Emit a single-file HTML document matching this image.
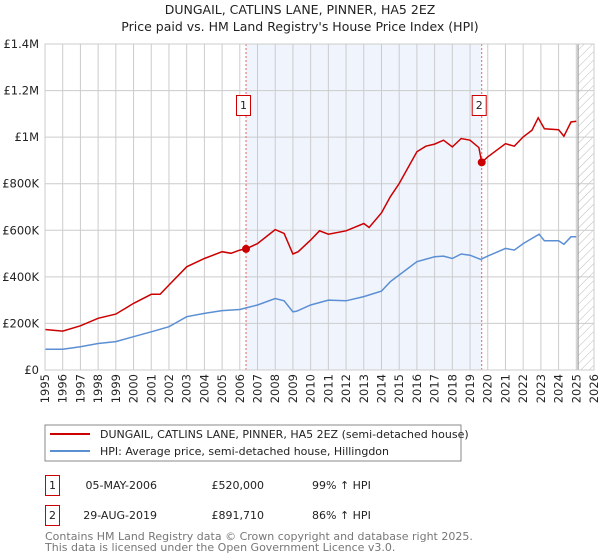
<!DOCTYPE html>
<html><head><meta charset="utf-8"><style>
body{margin:0;background:#fff;}
svg{display:block;font-family:"DejaVu Sans","Liberation Sans",sans-serif;}
</style></head><body>
<svg id="chart" width="600" height="560" viewBox="0 0 600 560">
<defs><pattern id="hatch" width="6" height="6" patternUnits="userSpaceOnUse" patternTransform="rotate(45)"><line x1="0" y1="0" x2="0" y2="6" stroke="#bbb" stroke-width="1"/></pattern></defs>
<text x="300" y="14" text-anchor="middle" font-size="12.5" fill="#222">DUNGAIL, CATLINS LANE, PINNER, HA5 2EZ</text>
<text x="300" y="31" text-anchor="middle" font-size="12.5" fill="#222">Price paid vs. HM Land Registry's House Price Index (HPI)</text>
<g id="plot"></g>
<rect x="45" y="425" width="416" height="36" fill="#fff" stroke="#888"/>
<line x1="50" y1="434" x2="90" y2="434" stroke="#cc0000" stroke-width="2"/>
<text x="100" y="438" font-size="11" fill="#222">DUNGAIL, CATLINS LANE, PINNER, HA5 2EZ (semi-detached house)</text>
<line x1="50" y1="451" x2="90" y2="451" stroke="#5b8fd4" stroke-width="2"/>
<text x="100" y="455" font-size="11" fill="#222">HPI: Average price, semi-detached house, Hillingdon</text>
<g font-size="11" fill="#222">
<rect x="45.5" y="475.5" width="14" height="20" fill="none" stroke="#cc0000"/>
<text x="52.5" y="489" text-anchor="middle">1</text>
<text x="157" y="489" text-anchor="end">05-MAY-2006</text>
<text x="264" y="489" text-anchor="end">£520,000</text>
<text x="312" y="489">99% ↑ HPI</text>
<rect x="45.5" y="505.5" width="14" height="20" fill="none" stroke="#cc0000"/>
<text x="52.5" y="519" text-anchor="middle">2</text>
<text x="157" y="519" text-anchor="end">29-AUG-2019</text>
<text x="264" y="519" text-anchor="end">£891,710</text>
<text x="312" y="519">86% ↑ HPI</text>
</g>
<text x="45" y="540" font-size="11" fill="#777">Contains HM Land Registry data © Crown copyright and database right 2025.</text>
<text x="45" y="551" font-size="11" fill="#777">This data is licensed under the Open Government Licence v3.0.</text>
</svg>
<script>
const hpiYears=[1995,1996,1997,1998,1999,2000,2001,2002,2003,2004,2005,2006,2007,2008,2008.5,2009,2009.2,2010,2011,2012,2013,2014,2014.5,2015,2016,2017,2017.5,2018,2018.5,2019,2019.6,2020,2021,2021.5,2022,2022.5,2022.9,2023.2,2024,2024.3,2024.7,2025];
const hpiValues=[89,89,100,114,122,143,164,186,229,243,255,260,279,307,297,250,252,279,300,297,315,339,379,408,465,486,489,479,498,493,475,489,522,515,543,565,583,555,555,540,572,572];
const priceYears=[1995,1996,1997,1998,1999,2000,2001,2001.5,2002,2003,2004,2005,2005.5,2006,2006.35,2007,2008,2008.5,2009,2009.3,2010,2010.5,2011,2012,2013,2013.3,2014,2014.5,2015,2016,2016.5,2017,2017.5,2018,2018.5,2019,2019.5,2019.66,2020,2021,2021.5,2022,2022.5,2022.85,2023.2,2024,2024.3,2024.7,2025];
const priceValues=[174,167,190,222,240,286,325,325,365,443,479,508,501,515,520,543,603,586,498,508,558,598,583,598,629,612,675,744,801,937,961,970,987,958,994,987,955,891.71,915,972,961,1001,1030,1083,1036,1032,1004,1065,1068];
const saleYears=[2006.35,2019.66];
const saleValues=[520,891.71];
const saleLabels=["1","2"];
const yTicks=[0,200,400,600,800,1000,1200,1400];
const yTickLabels=["£0","£200K","£400K","£600K","£800K","£1M","£1.2M","£1.4M"];
const xTicks=[1995,1996,1997,1998,1999,2000,2001,2002,2003,2004,2005,2006,2007,2008,2009,2010,2011,2012,2013,2014,2015,2016,2017,2018,2019,2020,2021,2022,2023,2024,2025,2026];

const X0=45,X1=594,Y0=370,Y1=44;
const xs=y=>X0+(y-1995)/(2026-1995)*(X1-X0);
const ys=v=>Y0-v/1400*(Y0-Y1);
const NS="http://www.w3.org/2000/svg";
const g=document.getElementById('plot');
function mk(t,a){const e=document.createElementNS(NS,t);for(const k in a)e.setAttribute(k,a[k]);g.appendChild(e);return e;}
let e;
e=mk('rect',{x:xs(saleYears[0]),y:Y1,width:xs(saleYears[1])-xs(saleYears[0]),height:Y0-Y1,fill:'#f0f4fd'});


e=mk('rect',{x:xs(2025.1),y:Y1,width:X1-xs(2025.1),height:Y0-Y1,fill:'url(#hatch)'});


xTicks.forEach(t=>{
 e=mk('line',{x1:xs(t),x2:xs(t),y1:Y1,y2:Y0,stroke:'#ccc','stroke-width':1});
 
 
 e=mk('text',{transform:`translate(${xs(t)+4},${Y0+4}) rotate(-90)`,'text-anchor':'end','font-size':11.5,fill:'#222'});
 e.textContent=t;
 
 
});
yTicks.forEach((t,i)=>{
 e=mk('line',{x1:X0,x2:X1,y1:ys(t),y2:ys(t),stroke:'#ccc','stroke-width':1});
 
 
 e=mk('text',{x:X0-6,y:ys(t)+4,'text-anchor':'end','font-size':11.5,fill:'#222'});
 e.textContent=yTickLabels[i];
 
 
});
e=mk('line',{x1:xs(2025.1),x2:xs(2025.1),y1:Y1,y2:Y0,stroke:'#888','stroke-width':1});


saleYears.forEach((s,i)=>{
 e=mk('line',{x1:xs(s),x2:xs(s),y1:Y1,y2:Y0,stroke:'#f06060','stroke-width':1,'stroke-dasharray':'2,2'});
 
 
});
const path=(xa,va)=>xa.map((x,i)=>(i?'L':'M')+xs(x).toFixed(1)+','+ys(va[i]).toFixed(1)).join('');
e=mk('path',{d:path(hpiYears,hpiValues),fill:'none',stroke:'#5b8fd4','stroke-width':1.5});


e=mk('path',{d:path(priceYears,priceValues),fill:'none',stroke:'#cc0000','stroke-width':1.5});


saleYears.forEach((s,i)=>{
 e=mk('circle',{cx:xs(s),cy:ys(saleValues[i]),r:4,fill:'#cc0000'});
 
 
 e=mk('rect',{x:xs(s)-9.5,y:95.5,width:14,height:20,fill:'#fff',stroke:'#cc0000'});
 
 
 e=mk('text',{x:xs(s)-2.5,y:109,'text-anchor':'middle','font-size':11,fill:'#222'});
 e.textContent=saleLabels[i];
 
 
});
e=mk('rect',{x:X0,y:Y1,width:X1-X0,height:Y0-Y1,fill:'none',stroke:'#ccc'});


</script>
</body></html>
